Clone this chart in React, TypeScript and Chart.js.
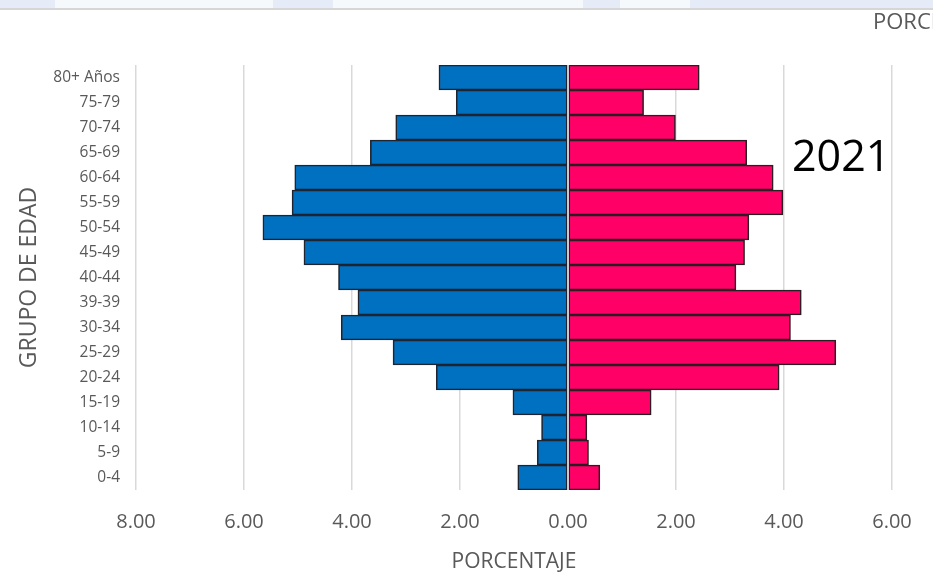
import React, { useEffect, useRef } from "react";
import { Chart, registerables } from "chart.js";

Chart.register(...registerables);

const categories = [
  "80+ Años", "75-79", "70-74", "65-69", "60-64", "55-59", "50-54", "45-49",
  "40-44", "39-39", "30-34", "25-29", "20-24", "15-19", "10-14", "5-9", "0-4",
];
const hombres = [2.39, 2.07, 3.19, 3.66, 5.06, 5.11, 5.65, 4.89, 4.25, 3.89, 4.2, 3.24, 2.44, 1.02, 0.49, 0.57, 0.93];
const mujeres = [2.43, 1.4, 1.99, 3.31, 3.8, 3.98, 3.35, 3.27, 3.11, 4.32, 4.12, 4.96, 3.91, 1.54, 0.35, 0.38, 0.59];
const xMin = -8;
const xMax = 6;
const xStep = 2;
const yearLabel = "2021";

const FONT = "'Open Sans', 'DejaVu Sans', sans-serif";
const GREY = "#595959";

const zeroLine = {
  id: "zeroLine",
  afterDatasetsDraw(chart: any) {
    const { ctx, chartArea, scales } = chart;
    const x = scales.x.getPixelForValue(0);
    ctx.save();
    ctx.strokeStyle = "#d3d8df";
    ctx.lineWidth = 1.5;
    ctx.beginPath();
    ctx.moveTo(x, chartArea.top);
    ctx.lineTo(x, chartArea.bottom);
    ctx.stroke();
    ctx.restore();
  },
};

export default function App() {
  const ref = useRef<HTMLCanvasElement | null>(null);

  useEffect(() => {
    document.body.style.margin = "0";
    if (!ref.current) return;
    const chart = new Chart(ref.current, {
      type: "bar",
      data: {
        labels: categories,
        datasets: [
          {
            label: "Hombres",
            data: hombres.map((v) => -v),
            backgroundColor: "#0070c0",
            borderColor: "#1e2430",
            borderWidth: 1.6,
            borderSkipped: false,
            barPercentage: 1,
            categoryPercentage: 1,
          },
          {
            label: "Mujeres",
            data: mujeres,
            backgroundColor: "#ff0066",
            borderColor: "#2a1e24",
            borderWidth: 1.6,
            borderSkipped: false,
            barPercentage: 1,
            categoryPercentage: 1,
          },
        ],
      },
      options: {
        indexAxis: "y",
        responsive: false,
        animation: false,
        devicePixelRatio: 1,
        layout: { padding: { top: 65, right: 41, bottom: 0, left: 0 } },
        plugins: { legend: { display: false }, tooltip: { enabled: false } },
        scales: {
          x: {
            stacked: true,
            min: xMin,
            max: xMax,
            ticks: {
              stepSize: xStep,
              callback: (v: any) => Math.abs(Number(v)).toFixed(2),
              font: { family: FONT, size: 20 },
              color: GREY,
              padding: 20,
              maxRotation: 0,
            },
            grid: { color: "#d9d9d9", lineWidth: 1.5, drawTicks: false },
            border: { display: false },
            title: {
              display: true,
              text: "PORCENTAJE",
              font: { family: FONT, size: 21 },
              color: GREY,
              padding: { top: 0, bottom: 9 },
            },
            afterFit: (s: any) => {
              s.height = 94;
            },
          },
          y: {
            stacked: true,
            grid: { display: false, drawTicks: false },
            border: { display: false },
            ticks: {
              font: { family: FONT, size: 15.5 },
              color: GREY,
              padding: 16,
              autoSkip: false,
            },
            title: {
              display: true,
              text: "GRUPO DE EDAD",
              font: { family: FONT, size: 23 },
              color: GREY,
              padding: { top: 16, bottom: 0 },
            },
            afterFit: (s: any) => {
              s.width = 136;
            },
          },
        },
      },
      plugins: [zeroLine],
    });
    return () => chart.destroy();
  }, []);

  const blocks: [number, number][] = [
    [0, 55],
    [273, 333],
    [583, 620],
    [690, 933],
  ];

  return (
    <div style={{ position: "relative", width: 933, height: 584, overflow: "hidden", background: "#fff" }}>
      <div style={{ position: "absolute", left: 0, top: 0, width: 933, height: 8, background: "#f5f9fc" }} />
      {blocks.map(([a, b], i) => (
        <div key={i} style={{ position: "absolute", left: a, top: 0, width: b - a, height: 8, background: "#e5ecf7" }} />
      ))}
      <div style={{ position: "absolute", left: 0, top: 8, width: 933, height: 2, background: "#d6d6d6" }} />
      <canvas ref={ref} width={933} height={584} style={{ position: "absolute", left: 0, top: 0 }} />
      <div
        style={{
          position: "absolute",
          left: 873,
          top: 7,
          fontFamily: FONT,
          fontSize: 22,
          color: GREY,
          whiteSpace: "nowrap",
          lineHeight: "26px",
        }}
      >
        PORCENTAJE
      </div>
      <div
        style={{
          position: "absolute",
          left: 792,
          top: 129,
          fontFamily: FONT,
          fontSize: 43,
          color: "#000",
          lineHeight: "52px",
          whiteSpace: "nowrap",
        }}
      >
        {yearLabel}
      </div>
    </div>
  );
}
